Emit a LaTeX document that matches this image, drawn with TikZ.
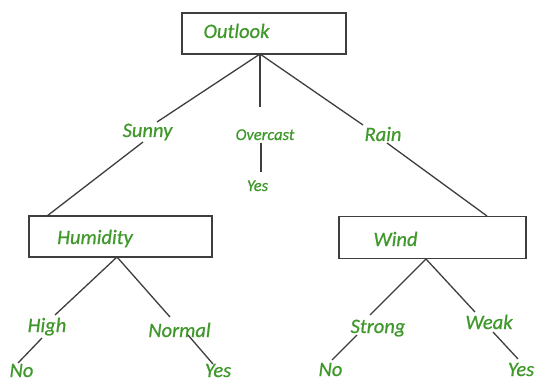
\documentclass[tikz,border=0pt]{standalone}
\usepackage{fontspec}
\setmainfont{Carlito}[ItalicFeatures={FakeBold=0.6}]
\definecolor{lbl}{RGB}{62,152,42}
\definecolor{edge}{RGB}{62,62,62}
\begin{document}
\begin{tikzpicture}[x=1pt,y=-1pt,
  attrbox/.style={draw=edge, line width=1.8pt, fill=white, inner sep=0pt},
  txt/.style={text=lbl, font=\fontsize{20.5}{24}\selectfont\itshape, anchor=base, inner sep=0pt},
  smalltxt/.style={txt, font=\fontsize{16.5}{20}\selectfont\itshape},
  link/.style={draw=edge, line width=1.3pt}]
\clip (0,0) rectangle (537,382);
\fill[white] (0,0) rectangle (537,382);

% attribute boxes
\node[attrbox, minimum width=164pt, minimum height=41pt] (outlook) at (264,33.5) {};
\node[attrbox, minimum width=183pt, minimum height=41pt] (humidity) at (120.5,236.5) {};
\node[attrbox, minimum width=187pt, minimum height=42pt] (wind) at (432.5,237.5) {};

% box captions
\node[txt] (tOutlook) at (236.5,38) {Outlook};
\node[txt] (tHumidity) at (95,244) {Humidity};
\node[txt] (tWind) at (395.5,246) {Wind};

% branch values and leaves
\node[txt] (tSunny) at (147.5,137) {Sunny};
\node[smalltxt] (tOvercast) at (265,140) {Overcast};
\node[smalltxt] (tYesMid) at (257.5,191) {Yes};
\node[txt] (tRain) at (383,141) {Rain};
\node[txt] (tHigh) at (47,332) {High};
\node[txt] (tNormal) at (179.5,337) {Normal};
\node[txt] (tNoL) at (21.5,377) {No};
\node[txt] (tYesL) at (218,377) {Yes};
\node[txt] (tStrong) at (378,333) {Strong};
\node[txt] (tWeak) at (489,329) {Weak};
\node[txt] (tNoR) at (330.5,376) {No};
\node[txt] (tYesR) at (521,376) {Yes};

% connector end points
\coordinate (o) at (260,54);
\coordinate (h) at (117,257);
\coordinate (w) at (426,259);
\coordinate (sunA) at (157,122);
\coordinate (sunB) at (143,142);
\coordinate (humTop) at (47,216);
\coordinate (ovA) at (260,107);
\coordinate (ovB) at (261,143);
\coordinate (ovC) at (261,172);
\coordinate (rainA) at (363,125);
\coordinate (rainB) at (387,143);
\coordinate (windTop) at (487,216);
\coordinate (hiA) at (55,315);
\coordinate (hiB) at (42,338);
\coordinate (hiC) at (18,363);
\coordinate (noA) at (170,317);
\coordinate (noB) at (188,335);
\coordinate (noC) at (213,364);
\coordinate (stA) at (370,315);
\coordinate (stB) at (357,335);
\coordinate (stC) at (332,360);
\coordinate (wkA) at (475,312);
\coordinate (wkB) at (493,332);
\coordinate (wkC) at (518,359);

% connectors
\draw[link] (o) -- (sunA);
\draw[link] (sunB) -- (humTop);
\draw[link] (o) -- (ovA);
\draw[link] (ovB) -- (ovC);
\draw[link] (o) -- (rainA);
\draw[link] (rainB) -- (windTop);
\draw[link] (h) -- (hiA);
\draw[link] (hiB) -- (hiC);
\draw[link] (h) -- (noA);
\draw[link] (noB) -- (noC);
\draw[link] (w) -- (stA);
\draw[link] (stB) -- (stC);
\draw[link] (w) -- (wkA);
\draw[link] (wkB) -- (wkC);
\end{tikzpicture}
\end{document}
